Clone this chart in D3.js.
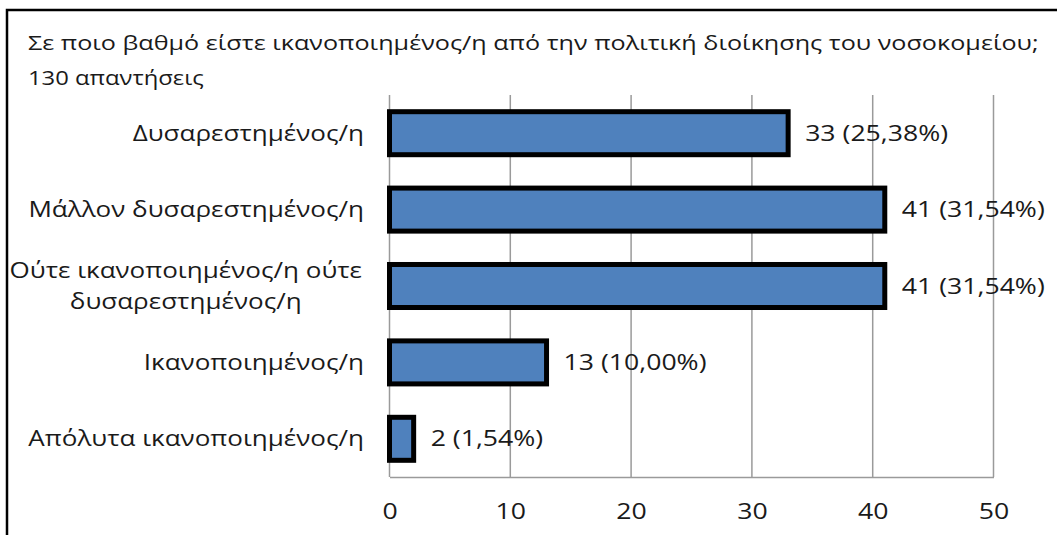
<!DOCTYPE html>
<html>
<head>
<meta charset="utf-8">
<script src="https://cdn.jsdelivr.net/npm/d3@7"></script>
<style>
  html, body { margin: 0; padding: 0; background: #fff; }
  svg { display: block; }
  text { font-family: "Open Sans", "Noto Sans", sans-serif; fill: #1a1a1a; }
</style>
</head>
<body>
<svg id="chart" width="1057" height="535"></svg>
<script>
// Survey answers (130 respondents)
const titleText = "Σε ποιο βαθμό είστε ικανοποιημένος/η από την πολιτική διοίκησης του νοσοκομείου;";
const subtitleText = "130 απαντήσεις";
const totalResponses = 130;
const categories = [
  "Δυσαρεστημένος/η",
  "Μάλλον δυσαρεστημένος/η",
  "Ούτε ικανοποιημένος/η ούτε δυσαρεστημένος/η",
  "Ικανοποιημένος/η",
  "Απόλυτα ικανοποιημένος/η"
];
const categoryLines = [
  ["Δυσαρεστημένος/η"],
  ["Μάλλον δυσαρεστημένος/η"],
  ["Ούτε ικανοποιημένος/η ούτε", "δυσαρεστημένος/η"],
  ["Ικανοποιημένος/η"],
  ["Απόλυτα ικανοποιημένος/η"]
];
const counts = [33, 41, 41, 13, 2];
const xTicks = [0, 10, 20, 30, 40, 50];

const svg = d3.select("#chart");
const STRETCH = 1.24; // horizontal widening of all text glyphs

const plot = { left: 389.5, right: 993.5, top: 95, bottom: 477 };

const x = d3.scaleLinear().domain([0, 50]).range([plot.left, plot.right]);
const y = d3.scaleBand().domain(categories)
  .range([plot.top, plot.bottom])
  .paddingInner(0.437).paddingOuter(0.2185);

function addText(g, str, px, py, size, anchor) {
  return g.append("text")
    .attr("transform", `translate(${px},${py}) scale(${STRETCH},1)`)
    .attr("font-size", size)
    .attr("text-anchor", anchor || "start")
    .text(str);
}

// frame (top and left edges)
svg.append("path")
  .attr("d", "M7,535 L7,10 L1057,10")
  .attr("fill", "none").attr("stroke", "#000").attr("stroke-width", 2.5);

// title
addText(svg, titleText, 28, 50, 20.3);
addText(svg, subtitleText, 28, 85, 19.2);

// gridlines
const grid = svg.append("g");
grid.selectAll("line.grid").data(xTicks).join("line")
  .attr("class", "grid")
  .attr("x1", d => x(d)).attr("x2", d => x(d))
  .attr("y1", plot.top).attr("y2", plot.bottom)
  .attr("stroke", "#9a9a9a").attr("stroke-width", 1.5);

// bottom axis
const axis = svg.append("g").attr("transform", `translate(0,${plot.bottom})`)
  .call(d3.axisBottom(x).tickValues(xTicks).tickSize(0).tickPadding(0).tickFormat(d3.format("d")));
axis.select(".domain").attr("stroke", "#9a9a9a").attr("stroke-width", 1.5);
axis.selectAll(".tick text").remove();
axis.selectAll(".tick").each(function(d) {
  addText(d3.select(this), String(d), 0, 42, 21.5, "middle");
});

// bars
svg.append("g").selectAll("rect").data(categories).join("rect")
  .attr("x", x(0))
  .attr("y", d => y(d))
  .attr("width", (d, i) => x(counts[i]) - x(0))
  .attr("height", y.bandwidth())
  .attr("fill", "#4f81bd")
  .attr("stroke", "#000").attr("stroke-width", 5);

// value labels
const fmtPct = v => (v * 100).toFixed(2).replace(".", ",") + "%";
const vl = svg.append("g");
categories.forEach((c, i) => {
  addText(vl, `${counts[i]} (${fmtPct(counts[i] / totalResponses)})`,
    x(counts[i]) + 17, y(c) + y.bandwidth() / 2 + 7.5, 21.5);
});

// category labels
const cl = svg.append("g");
categories.forEach((c, i) => {
  const lines = categoryLines[i];
  const cy = y(c) + y.bandwidth() / 2;
  if (lines.length === 1) {
    addText(cl, lines[0], 364, cy + 7.5, 21, "end");
  } else {
    const lh = 31;
    const t0 = cy - (lines.length - 1) * lh / 2 + 7.5;
    // measure widest line to center the block against the right edge
    const tmp = addText(cl, lines[0], 0, -100, 21, "start");
    const w = tmp.node().getComputedTextLength() * STRETCH;
    tmp.remove();
    const mid = 362 - w / 2;
    lines.forEach((ln, k) => addText(cl, ln, mid, t0 + k * lh, 21, "middle"));
  }
});
</script>
</body>
</html>
